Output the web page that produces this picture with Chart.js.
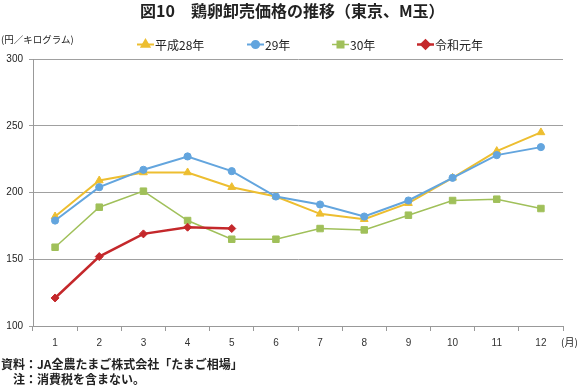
<!DOCTYPE html>
<html>
<head>
<meta charset="utf-8">
<script src="https://cdn.jsdelivr.net/npm/chart.js@4/dist/chart.umd.min.js"></script>
<style>
  body { margin: 0; background: #fff; }
  #wrap { position: relative; width: 583px; height: 386px; overflow: hidden; font-family: "Noto Sans CJK JP", sans-serif; color: #222; }
  #wrap canvas { position: absolute; left: 0; top: 0; }
  .txt { position: absolute; white-space: nowrap; line-height: 1; }
  #title { left: 140px; top: 2px; font-size: 16px; font-weight: bold; }
  #unit { left: 1px; top: 35px; font-size: 9.5px; }
  #month { left: 561px; top: 337px; font-size: 10px; }
  #src { left: 1px; top: 358px; font-size: 12px; font-weight: bold; }
  #note { left: 1px; top: 373px; font-size: 12px; font-weight: bold; }
</style>
</head>
<body>
<div id="wrap">
  <canvas id="myChart" width="583" height="386"></canvas>
  <div class="txt" id="title">図10　鶏卵卸売価格の推移（東京、M玉）</div>
  <div class="txt" id="unit">(円／キログラム)</div>
  <div class="txt" id="month">(月)</div>
  <div class="txt" id="src">資料：JA全農たまご株式会社「たまご相場」</div>
  <div class="txt" id="note">　注：消費税を含まない。</div>
</div>
<script>
const meses = ['1', '2', '3', '4', '5', '6', '7', '8', '9', '10', '11', '12'];
const heisei28 = [182, 209, 215, 215, 204, 197, 184, 180, 192, 211, 231, 245];
const heisei29 = [179, 204, 217, 227, 216, 197, 191, 182, 194, 211, 228, 234];
const heisei30 = [159, 189, 201, 179, 165, 165, 173, 172, 183, 194, 195, 188];
const reiwa1 = [121, 152, 169, 174, 173];
const yTicks = [100, 150, 200, 250, 300];

const series = [
    { label: '平成28年', data: heisei28, color: '#EDBE30', style: 'triangle', radius: 4.5, width: 2, order: 4, lx: 137 },
    { label: '29年', data: heisei29, color: '#63A5DE', style: 'circle', radius: 3.6, width: 2, order: 3, lx: 247 },
    { label: '30年', data: heisei30, color: '#A0C05A', style: 'rect', radius: 4.6, width: 1.5, order: 2, lx: 332 },
    { label: '令和元年', data: reiwa1, color: '#C4282B', style: 'rectRot', radius: 4, width: 2.5, order: 1, lx: 417 }
];

// leyenda tipo excel: linea + marcador + texto
const leyenda = {
    id: 'leyenda',
    afterDraw(chart) {
        const ctx = chart.ctx;
        const y = 44.5;
        series.forEach((s) => {
            ctx.save();
            ctx.strokeStyle = s.color;
            ctx.lineWidth = s.width;
            ctx.beginPath();
            ctx.moveTo(s.lx, y);
            ctx.lineTo(s.lx + 17, y);
            ctx.stroke();
            ctx.fillStyle = s.color;
            Chart.helpers.drawPoint(ctx, { pointStyle: s.style, radius: s.radius, rotation: 0, borderWidth: 1 }, s.lx + 8.5, y);
            ctx.fillStyle = '#222';
            ctx.font = '12px "Noto Sans CJK JP"';
            ctx.textBaseline = 'middle';
            ctx.fillText(s.label, s.lx + 18, y + 0.5);
            ctx.restore();
        });
    }
};

const datasets = series.map((s) => {
    return {
        label: s.label,
        data: s.data,
        borderColor: s.color,
        backgroundColor: s.color,
        pointBackgroundColor: s.color,
        pointBorderColor: s.color,
        borderWidth: s.width,
        pointStyle: s.style,
        pointRadius: s.radius,
        pointBorderWidth: 1,
        tension: 0,
        order: s.order
    };
});

new Chart(document.querySelector('#myChart'), {
    type: 'line',
    data: { labels: meses, datasets },
    options: {
        responsive: false,
        animation: false,
        events: [],
        layout: { padding: { top: 59, right: 20, left: 0, bottom: 0 } },
        plugins: { legend: { display: false }, tooltip: { enabled: false } },
        scales: {
            x: {
                offset: true,
                afterFit: (scale) => { scale.height = 60; },
                grid: { offset: true, drawOnChartArea: false, drawTicks: true, tickLength: 5, color: '#999' },
                border: { color: '#999', width: 1 },
                ticks: { color: '#333', padding: 6, font: { family: 'Liberation Sans', size: 10 } }
            },
            y: {
                min: 100,
                max: 300,
                afterFit: (scale) => { scale.width = 33; },
                afterBuildTicks: (scale) => { scale.ticks = yTicks.map((v) => ({ value: v })); },
                grid: { color: '#a0a0a0', tickLength: 4, lineWidth: 1 },
                border: { color: '#999', width: 1 },
                ticks: { color: '#222', padding: 6, font: { family: 'Liberation Sans', size: 10 } }
            }
        }
    },
    plugins: [leyenda]
});
</script>
</body>
</html>
